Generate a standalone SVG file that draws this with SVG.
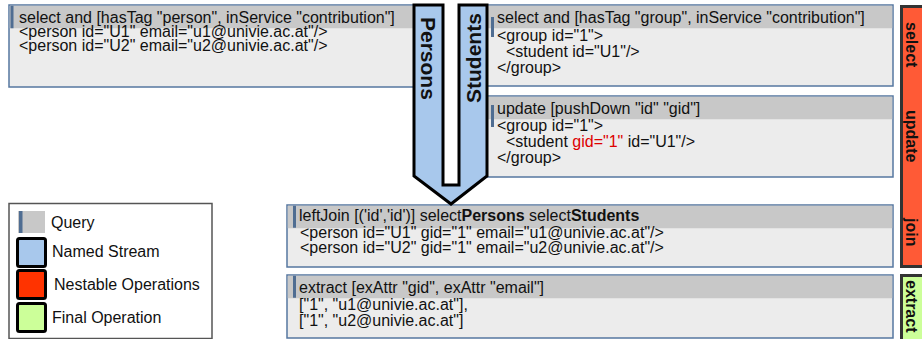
<svg xmlns="http://www.w3.org/2000/svg" width="922" height="339" viewBox="0 0 922 339">
<style>
.box{fill:#ececec;stroke:#5677a0;stroke-width:1.5}
.hdr{fill:#c8c8c8}
.qbar{fill:#4f6d92}
.t{font-family:"Liberation Sans",Arial,sans-serif;font-size:16px;fill:#111}
.b{font-weight:bold}
.red{fill:#dd0000}
.op{fill:#ff5a36;stroke:#333;stroke-width:3}
.fin{fill:#ccff99;stroke:#333;stroke-width:3}
.lbl{font-family:"Liberation Sans",Arial,sans-serif;font-size:16px;font-weight:bold;fill:#111}
.sname{font-family:"Liberation Sans",Arial,sans-serif;font-size:21px;font-weight:bold;fill:#111}
.leg{stroke:#000;stroke-width:3}
</style>
<rect width="922" height="339" fill="#fff"/>

<g id="select-persons">
<rect class="box" x="9" y="5" width="412" height="82"/>
<rect class="hdr" x="9.75" y="5.75" width="410" height="22.5"/>
<rect class="qbar" x="10.5" y="5.75" width="3" height="22.5"/>
<text class="t" x="19" y="23">select and [hasTag "person", inService "contribution"]</text>
<text class="t" x="19" y="37">&lt;person id="U1" email="u1@univie.ac.at"/&gt;</text>
<text class="t" x="19" y="51">&lt;person id="U2" email="u2@univie.ac.at"/&gt;</text>
</g>

<g id="select-students">
<rect class="box" x="484" y="5" width="409" height="81"/>
<rect class="hdr" x="484.75" y="5.75" width="407.5" height="22.5"/>
<rect class="qbar" x="491" y="17" width="3" height="20"/>
<text class="t" x="497" y="23">select and [hasTag "group", inService "contribution"]</text>
<text class="t" x="497" y="41">&lt;group id="1"&gt;</text>
<text class="t" x="506" y="57">&lt;student id="U1"/&gt;</text>
<text class="t" x="497" y="73">&lt;/group&gt;</text>
</g>

<g id="update">
<rect class="box" x="484" y="96" width="409" height="81"/>
<rect class="hdr" x="484.75" y="96.75" width="407.5" height="22.5"/>
<rect class="qbar" x="491" y="105" width="3" height="22"/>
<text class="t" x="497" y="114">update [pushDown "id" "gid"]</text>
<text class="t" x="497" y="131">&lt;group id="1"&gt;</text>
<text class="t" x="506" y="147">&lt;student <tspan class="red">gid="1"</tspan> id="U1"/&gt;</text>
<text class="t" x="497" y="163">&lt;/group&gt;</text>
</g>

<g id="leftjoin">
<rect class="box" x="287" y="205" width="606" height="62"/>
<rect class="hdr" x="287.75" y="205.75" width="604.5" height="22.5"/>
<rect class="qbar" x="293" y="205.75" width="3" height="22"/>
<text class="t" x="299" y="221">leftJoin [('id','id')] select<tspan class="b">Persons</tspan> select<tspan class="b">Students</tspan></text>
<text class="t" x="300" y="238">&lt;person id="U1" gid="1" email="u1@univie.ac.at"/&gt;</text>
<text class="t" x="300" y="253">&lt;person id="U2" gid="1" email="u2@univie.ac.at"/&gt;</text>
</g>

<g id="extract">
<rect class="box" x="287" y="275" width="606" height="63"/>
<rect class="hdr" x="287.75" y="275.75" width="604.5" height="22.5"/>
<rect class="qbar" x="293" y="275.75" width="3" height="22"/>
<text class="t" x="299" y="293">extract [exAttr "gid", exAttr "email"]</text>
<text class="t" x="299" y="310">["1", "u1@univie.ac.at"],</text>
<text class="t" x="299" y="326">["1", "u2@univie.ac.at"]</text>
</g>

<g id="connectors">
<path d="M414,5 H443 V185 H459 V5 H487 V176 L451,204 L414,176 Z" fill="#a8c8ec" stroke="#000" stroke-width="3" stroke-linejoin="miter"/>
<text class="sname" transform="translate(421,17) rotate(90)">Persons</text>
<text class="sname" transform="translate(481,103) rotate(-90)">Students</text>
</g>

<g id="nestable-ops">
<rect class="op" x="901.5" y="6.5" width="30" height="260"/>
<text class="lbl" transform="translate(906,22) rotate(90)">select</text>
<text class="lbl" transform="translate(906,110) rotate(90)">update</text>
<text class="lbl" transform="translate(906,218) rotate(90)">join</text>
</g>

<g id="final-op">
<rect class="fin" x="901.5" y="275.5" width="30" height="70"/>
<text class="lbl" transform="translate(906,280) rotate(90)">extract</text>
</g>

<g id="legend">
<rect x="9" y="203.5" width="203" height="135" fill="#fff" stroke="#555" stroke-width="1.5"/>
<rect x="18" y="211" width="27" height="22" fill="#c8c8c8"/>
<rect class="qbar" x="19" y="211" width="3.5" height="22"/>
<text class="t" x="51" y="228">Query</text>
<rect class="leg" x="17.5" y="238.5" width="28" height="28" rx="2" fill="#a8c8ec"/>
<text class="t" x="52" y="257">Named Stream</text>
<rect class="leg" x="17.5" y="270.5" width="28" height="28" rx="2" fill="#ff3300"/>
<text class="t" x="54" y="290">Nestable Operations</text>
<rect class="leg" x="17.5" y="303.5" width="28" height="28" rx="2" fill="#ccff99"/>
<text class="t" x="52" y="323">Final Operation</text>
</g>
</svg>
